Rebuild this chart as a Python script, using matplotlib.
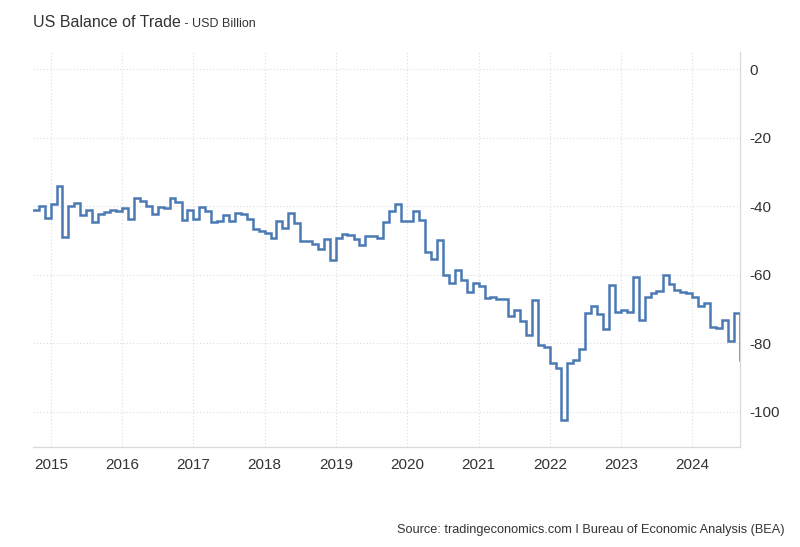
"""
US Balance of Trade - monthly step chart (tradingeconomics style)
"""

import pandas as pd
import matplotlib.pyplot as plt
import matplotlib.dates as mdates

plt.rcParams['font.family'] = ['Liberation Sans', 'DejaVu Sans']

# Monthly balance, USD billion, Oct 2014 .. Sep 2024
start_month = '2014-10-01'
balance = [
    # 2014 Oct-Dec
    -41.2, -40.0, -43.4,
    # 2015
    -39.3, -34.2, -49.0, -40.0, -39.1, -42.7, -41.0, -44.6, -42.2, -41.7, -41.2, -41.4,
    # 2016
    -40.4, -43.7, -37.5, -38.5, -39.9, -42.2, -40.2, -40.5, -37.5, -38.8, -43.9, -41.2,
    # 2017
    -43.7, -40.2, -41.5, -44.6, -44.3, -42.7, -44.2, -42.0, -42.2, -43.7, -46.6, -47.3,
    # 2018
    -47.8, -49.2, -44.2, -46.3, -42.0, -44.9, -50.0, -50.0, -51.0, -52.6, -49.5, -55.6,
    # 2019
    -49.3, -48.1, -48.5, -49.5, -51.3, -48.7, -48.7, -49.3, -44.6, -41.5, -39.3, -44.2,
    # 2020
    -44.2, -41.4, -43.9, -53.4, -55.4, -49.8, -60.2, -62.5, -58.6, -61.5, -65.1, -62.5,
    # 2021
    -63.2, -66.8, -66.6, -67.0, -67.0, -71.9, -70.3, -73.6, -77.5, -67.3, -80.4, -81.0,
    # 2022
    -85.8, -87.2, -102.4, -85.8, -84.9, -81.7, -71.2, -69.0, -71.4, -75.8, -62.9, -70.9,
    # 2023
    -70.3, -70.9, -60.5, -73.2, -66.4, -65.4, -64.8, -60.0, -62.7, -64.4, -65.1, -65.4,
    # 2024 Jan-Sep
    -66.6, -69.0, -68.3, -75.3, -75.6, -73.3, -79.2, -71.2, -84.8,
]
months = pd.date_range(start_month, periods=len(balance), freq='MS')

y_ticks = [0, -20, -40, -60, -80, -100]

fig = plt.figure(figsize=(8, 5.47), dpi=100)
ax = fig.add_axes([0.041, 0.183, 0.884, 0.722])

ax.step(months, balance, where='post', color='#4a79b4', linewidth=1.8,
        solid_joinstyle='miter')

ax.set_xlim(months[0], months[-1])
ax.set_ylim(-110.2, 5)

ax.yaxis.tick_right()
ax.set_yticks(y_ticks)
ax.set_yticklabels([str(v) for v in y_ticks])
ax.xaxis.set_major_locator(mdates.YearLocator())
ax.xaxis.set_major_formatter(mdates.DateFormatter('%Y'))

ax.tick_params(axis='y', length=0, pad=7, labelsize=11, labelcolor='#333333')
ax.tick_params(axis='x', length=0, pad=8, labelsize=11, labelcolor='#333333')

ax.grid(True, color='#dcdcdc', linestyle=(0, (1, 2)), linewidth=0.8)
for side in ['left', 'top']:
    ax.spines[side].set_visible(False)
for side in ['right', 'bottom']:
    ax.spines[side].set_color('#d9d9d9')
    ax.spines[side].set_linewidth(0.9)

# Title with smaller unit suffix
title = fig.text(33 / 800, 1 - 27 / 547, 'US Balance of Trade', fontsize=11.5,
                 color='#333333', va='baseline', ha='left')
ax.annotate(' - USD Billion', xy=(1, 0), xycoords=title, fontsize=9,
            color='#333333', va='bottom', ha='left', annotation_clip=False)

fig.text(785 / 800, 1 - 533 / 547,
         'Source: tradingeconomics.com I Bureau of Economic Analysis (BEA)',
         fontsize=9.2, color='#333333', ha='right', va='baseline')

plt.savefig('out.png', dpi=100)
plt.close()
